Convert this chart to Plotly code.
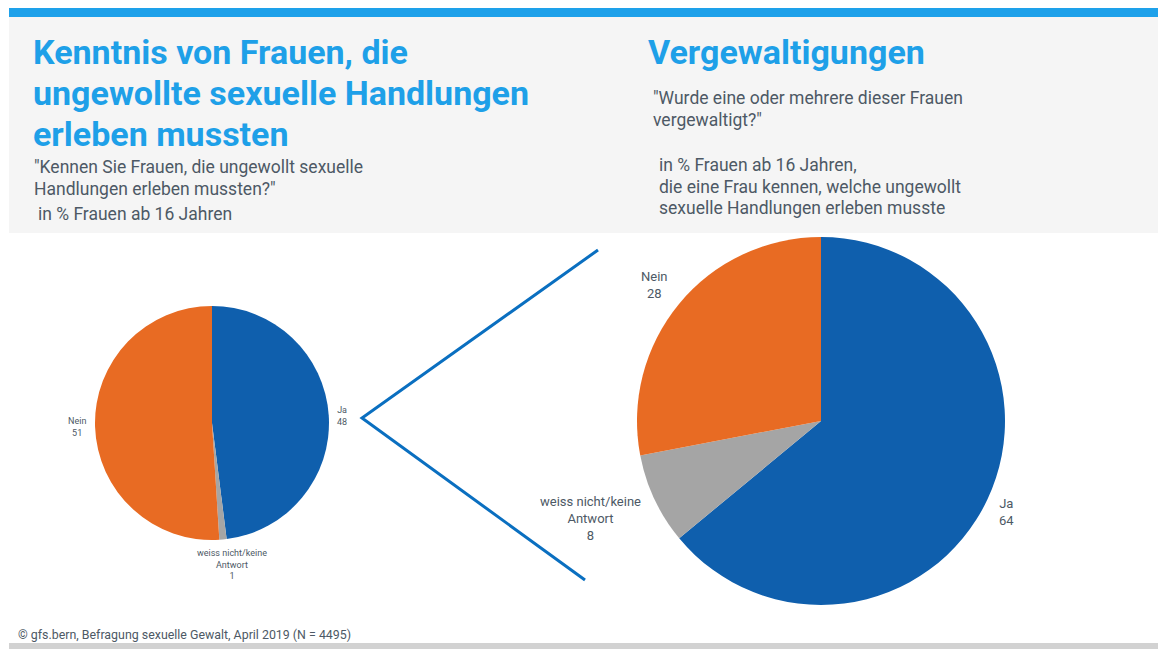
import plotly.graph_objects as go

# page body has an 8px margin, so the figure is 8px smaller and coordinates are offset
OFF = 8
W, H = 1166 - OFF, 649 - OFF

# ---- data ----
labels_left = ["Ja", "weiss nicht/keine Antwort", "Nein"]
values_left = [48, 1, 51]
labels_right = ["Ja", "weiss nicht/keine Antwort", "Nein"]
values_right = [64, 8, 28]
label_text = {"Ja": "Ja", "weiss nicht/keine Antwort": "weiss nicht/keine<br>Antwort", "Nein": "Nein"}
colors = ["#0f5fad", "#a5a5a5", "#e86b23"]

BLUE_T = "#1ea0e8"
TXT = "#4d5965"
FONT = "Roboto"


def px(x):
    return (x - OFF) / W


def py(y):
    return 1 - (y - OFF) / H


fig = go.Figure()
fig.add_trace(go.Pie(
    labels=labels_left, values=values_left, sort=False, direction="clockwise", rotation=0,
    marker=dict(colors=colors, line=dict(width=0)), textinfo="none", hoverinfo="label+value",
    domain=dict(x=[px(95), px(329)], y=[py(540), py(306)]), showlegend=False,
))
fig.add_trace(go.Pie(
    labels=labels_right, values=values_right, sort=False, direction="clockwise", rotation=0,
    marker=dict(colors=colors, line=dict(width=0)), textinfo="none", hoverinfo="label+value",
    domain=dict(x=[px(637), px(1005)], y=[py(605), py(237)]), showlegend=False,
))

shapes = [
    dict(type="rect", xref="paper", yref="paper", x0=px(9), x1=1, y0=py(17), y1=1,
         fillcolor="#1ea1ea", line=dict(width=0), layer="below"),
    dict(type="rect", xref="paper", yref="paper", x0=px(9), x1=1, y0=py(233), y1=py(17),
         fillcolor="#f5f5f5", line=dict(width=0), layer="below"),
    dict(type="rect", xref="paper", yref="paper", x0=px(9), x1=1, y0=0, y1=py(643),
         fillcolor="#d2d2d2", line=dict(width=0), layer="below"),
    dict(type="path", xref="paper", yref="paper",
         path=f"M {px(598)} {py(250)} L {px(362)} {py(418)} L {px(585)} {py(580)}",
         line=dict(color="#0a6fc0", width=3)),
]

ann = []


def text(x, y, s, size, color=TXT, bold=False, align="left", xanchor="left"):
    ann.append(dict(x=px(x), y=py(y), xref="paper", yref="paper", text=s, showarrow=False,
                    xanchor=xanchor, yanchor="middle", align=align,
                    font=dict(family=FONT, size=size, color=color,
                              weight="bold" if bold else "normal")))


TS = 34
SS = 17.5
text(31, 52, "Kenntnis von Frauen, die", TS, BLUE_T, True)
text(31, 93, "ungewollte sexuelle Handlungen", TS, BLUE_T, True)
text(31, 134, "erleben mussten", TS, BLUE_T, True)
text(32, 167, "\"Kennen Sie Frauen, die ungewollt sexuelle", SS)
text(32, 189, "Handlungen erleben mussten?\"", SS)
text(36, 214, "in % Frauen ab 16 Jahren", SS)

text(646, 52, "Vergewaltigungen", TS, BLUE_T, True)
text(651, 98, "\"Wurde eine oder mehrere dieser Frauen", SS)
text(651, 120, "vergewaltigt?\"", SS)
text(657, 165, "in % Frauen ab 16 Jahren,", SS)
text(657, 187, "die eine Frau kennen, welche ungewollt", SS)
text(657, 208, "sexuelle Handlungen erleben musste", SS)

text(16, 634, "© gfs.bern, Befragung sexuelle Gewalt, April 2019 (N = 4495)", 12.4)

# pie labels (text from data)
left_pos = {"Ja": (342, 416), "weiss nicht/keine Antwort": (232, 564), "Nein": (77, 427)}
right_pos = {"Ja": (1006, 512), "weiss nicht/keine Antwort": (590, 518), "Nein": (655, 285)}
for lab, val in zip(labels_left, values_left):
    x, y = left_pos[lab]
    text(x, y, f"{label_text[lab]}<br>{val}", 9, align="center", xanchor="center")
for lab, val in zip(labels_right, values_right):
    x, y = right_pos[lab]
    text(x, y, f"{label_text[lab]}<br>{val}", 13, align="center", xanchor="center")

fig.update_layout(
    width=W, height=H, margin=dict(l=0, r=0, t=0, b=0),
    paper_bgcolor="white", plot_bgcolor="white",
    shapes=shapes, annotations=ann,
)

fig.write_html("out.html")
